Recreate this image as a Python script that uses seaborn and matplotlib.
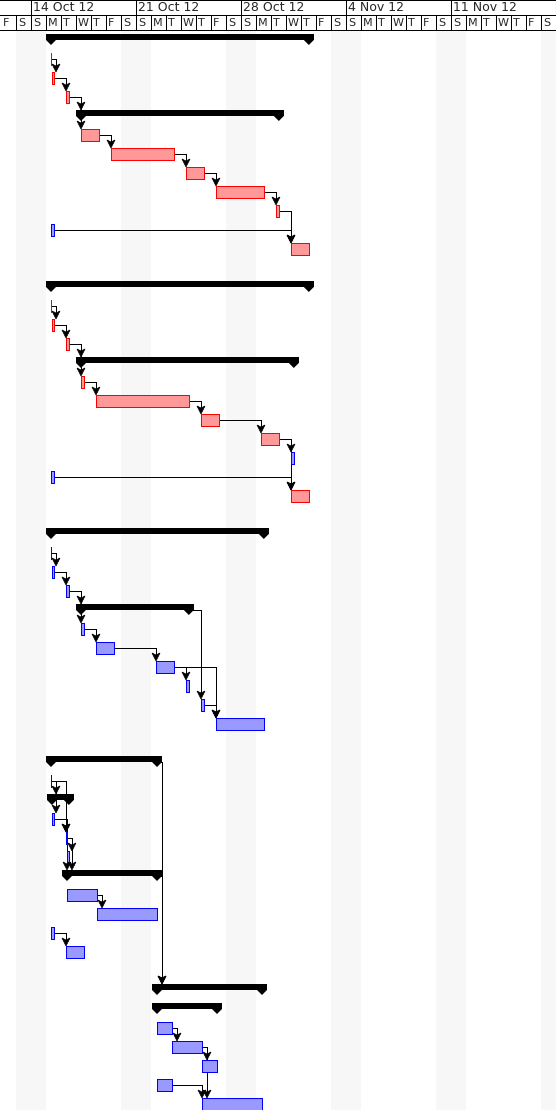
import numpy as np
import pandas as pd
import matplotlib
matplotlib.use("Agg")
import matplotlib.pyplot as plt
import seaborn as sns

# calendar shown: Fri 12 Oct 2012 .. Sat 17 Nov 2012
chart_start = "2012-10-12"
n_days = 37
week_labels = ["14 Oct 12", "21 Oct 12", "28 Oct 12", "4 Nov 12", "11 Nov 12"]
day_letters = ["M", "T", "W", "T", "F", "S", "S"]

# one entry per line of the gantt (empty lines between the four projects)
task_row = [0, 1, 2, 3, 4, 5, 6, 7, 8, 9, 10, 11,
            13, 14, 15, 16, 17, 18, 19, 20, 21, 22, 23, 24,
            26, 27, 28, 29, 30, 31, 32, 33, 34, 35, 36,
            38, 39, 40, 41, 42, 43, 44, 45, 46, 47, 48,
            50, 51, 52, 53, 54, 55, 56]
task_type = ["S", "T", "T", "T", "S", "T", "T", "T", "T", "T", "T", "T",
             "S", "T", "T", "T", "S", "T", "T", "T", "T", "T", "T", "T",
             "S", "T", "T", "T", "S", "T", "T", "T", "T", "T", "T",
             "S", "T", "S", "T", "T", "T", "S", "T", "T", "T", "T",
             "S", "S", "T", "T", "T", "T", "T"]
task_start = ["10-15 08:00", "10-15 08:00", "10-15 09:30", "10-16 08:00", "10-17 08:00", "10-17 08:00",
              "10-19 08:00", "10-24 08:00", "10-26 08:00", "10-30 08:00", "10-15 08:00", "10-31 08:00",
              "10-15 08:00", "10-15 08:00", "10-15 09:30", "10-16 08:00", "10-17 08:00", "10-17 08:00",
              "10-18 08:00", "10-25 08:00", "10-29 08:00", "10-31 08:00", "10-15 08:00", "10-31 08:00",
              "10-15 08:00", "10-15 08:00", "10-15 09:30", "10-16 08:00", "10-17 08:00", "10-17 08:00",
              "10-18 08:00", "10-22 08:00", "10-24 08:00", "10-25 08:00", "10-26 08:00",
              "10-15 08:00", "10-15 08:00", "10-15 09:30", "10-15 09:30", "10-16 08:00", "10-16 09:30",
              "10-16 09:36", "10-16 09:36", "10-18 09:36", "10-15 08:00", "10-16 08:00",
              "10-22 09:36", "10-22 09:36", "10-22 09:36", "10-23 09:36", "10-25 09:36", "10-22 09:36",
              "10-25 09:36"]
task_end = ["11-01 12:30", "10-15 08:00", "10-15 12:00", "10-16 12:30", "10-30 12:30", "10-18 12:30",
            "10-23 12:30", "10-25 12:30", "10-29 12:30", "10-30 12:30", "10-15 12:30", "11-01 12:30",
            "11-01 12:30", "10-15 08:00", "10-15 12:00", "10-16 12:30", "10-31 12:30", "10-17 12:30",
            "10-24 12:30", "10-26 12:30", "10-30 12:30", "10-31 12:30", "10-15 12:30", "11-01 12:30",
            "10-29 12:30", "10-15 08:00", "10-15 12:00", "10-16 12:30", "10-24 12:30", "10-17 12:30",
            "10-19 12:30", "10-23 12:30", "10-24 12:30", "10-25 12:30", "10-29 12:30",
            "10-22 09:36", "10-15 08:00", "10-16 12:30", "10-15 12:30", "10-16 09:30", "10-16 12:30",
            "10-22 09:36", "10-18 09:36", "10-22 09:36", "10-15 12:30", "10-17 12:30",
            "10-29 09:36", "10-26 09:36", "10-23 09:36", "10-25 09:36", "10-26 09:36", "10-23 09:36",
            "10-29 09:36"]
# critical tasks are red, the others blue
task_critical = [0, 1, 1, 1, 0, 1, 1, 1, 1, 1, 0, 1,
                 0, 1, 1, 1, 0, 1, 1, 1, 1, 0, 0, 1,
                 0, 0, 0, 0, 0, 0, 0, 0, 0, 0, 0,
                 0, 0, 0, 0, 0, 0, 0, 0, 0, 0, 0,
                 0, 0, 0, 0, 0, 0, 0]

# dependencies (predecessor line -> successor line)
dep_from = [1, 2, 3, 3, 5, 6, 7, 8, 9, 10,
            14, 15, 16, 16, 18, 19, 20, 21, 21, 23,
            27, 28, 29, 29, 31, 32, 33, 33, 30, 35,
            39, 39, 39, 41, 42, 41, 42, 38, 44, 45, 47, 52, 53, 53, 55]
dep_to = [2, 3, 4, 5, 6, 7, 8, 9, 11, 11,
          15, 16, 17, 18, 19, 20, 21, 22, 24, 24,
          28, 29, 30, 31, 32, 33, 34, 36, 35, 36,
          40, 41, 42, 42, 43, 44, 44, 50, 50, 46, 48, 53, 54, 56, 56]

df = pd.DataFrame({"row": task_row, "type": task_type, "start": task_start,
                   "end": task_end, "critical": task_critical})
t0 = pd.Timestamp(chart_start)
df["x0"] = (pd.to_datetime("2012-" + df["start"]) - t0) / pd.Timedelta(days=1)
df["x1"] = (pd.to_datetime("2012-" + df["end"]) - t0) / pd.Timedelta(days=1)
lines = df.set_index("row")

sns.set_style("white")
plt.rcParams["font.family"] = ["DejaVu Sans"]

PX = 1 / 15   # one pixel in days
PY = 1 / 19   # one pixel in rows
LW = 0.72     # 1 pixel line

def ypix(p):
    return (p - 40) * PY

fig = plt.figure(figsize=(5.56, 11.10), dpi=100)
ax = fig.add_axes([0, 0, 1, 1])
ax.set_xlim(-PX, n_days)
ax.set_ylim(ypix(1110), ypix(0))
ax.axis("off")

days = pd.date_range(chart_start, periods=n_days, freq="D")

# weekend shading
for d, day in enumerate(days):
    if day.weekday() >= 5:
        ax.axvspan(d, d + 1, ymin=0, ymax=1 - 30 / 1110, color="#f7f7f7", lw=0, zorder=0)

# header
ax.hlines([ypix(0.5), ypix(15), ypix(30)], -PX, n_days, color="black", lw=LW, antialiased=False)
wk = 0
for d, day in enumerate(days):
    if d > 0:
        ax.vlines(d, ypix(15), ypix(30), color="black", lw=LW, antialiased=False)
    ax.text(d + 2 * PX, ypix(23), day_letters[day.weekday()], fontsize=8, va="center", ha="left")
    if day.weekday() == 6:
        ax.vlines(d, ypix(0), ypix(15), color="black", lw=LW, antialiased=False)
        ax.text(d + 2 * PX, ypix(7.5), week_labels[wk], fontsize=9, va="center", ha="left")
        wk += 1

# dependency arrows
for a, b in zip(dep_from, dep_to):
    pa, pb = lines.loc[a], lines.loc[b]
    xa = max(pb["x0"], pa["x1"] + 5 * PX)
    tip = b - 6 * PY
    ax.plot([pa["x1"], xa, xa], [a, a, tip - 4 * PY], color="black", lw=LW,
            antialiased=False, zorder=2)
    ax.fill([xa - 4 * PX, xa, xa + 4 * PX, xa],
            [tip - 8 * PY, tip - 6 * PY, tip - 8 * PY, tip],
            color="black", lw=0.5, zorder=4)

# task bars
tasks = df[df["type"] == "T"]
fills = ["#ff9999" if c else "#9999ff" for c in tasks["critical"]]
edges = ["#ff0000" if c else "#0000ff" for c in tasks["critical"]]
ax.barh(tasks["row"], tasks["x1"] - tasks["x0"], left=tasks["x0"], height=12 * PY,
        color=fills, edgecolor=edges, linewidth=LW, antialiased=False, zorder=3)

# summary bars with end markers
sums = df[df["type"] == "S"]
ax.barh(sums["row"] - 3 * PY, sums["x1"] - sums["x0"] + 10 * PX, left=sums["x0"] - 5 * PX,
        height=6 * PY, color="black", lw=0, antialiased=False, zorder=3)
for _, s in sums.iterrows():
    for xe in (s["x0"], s["x1"]):
        ax.fill([xe - 5 * PX, xe + 5 * PX, xe], [s["row"], s["row"], s["row"] + 5 * PY],
                color="black", lw=0, zorder=3)

fig.savefig("out.png", dpi=100)
